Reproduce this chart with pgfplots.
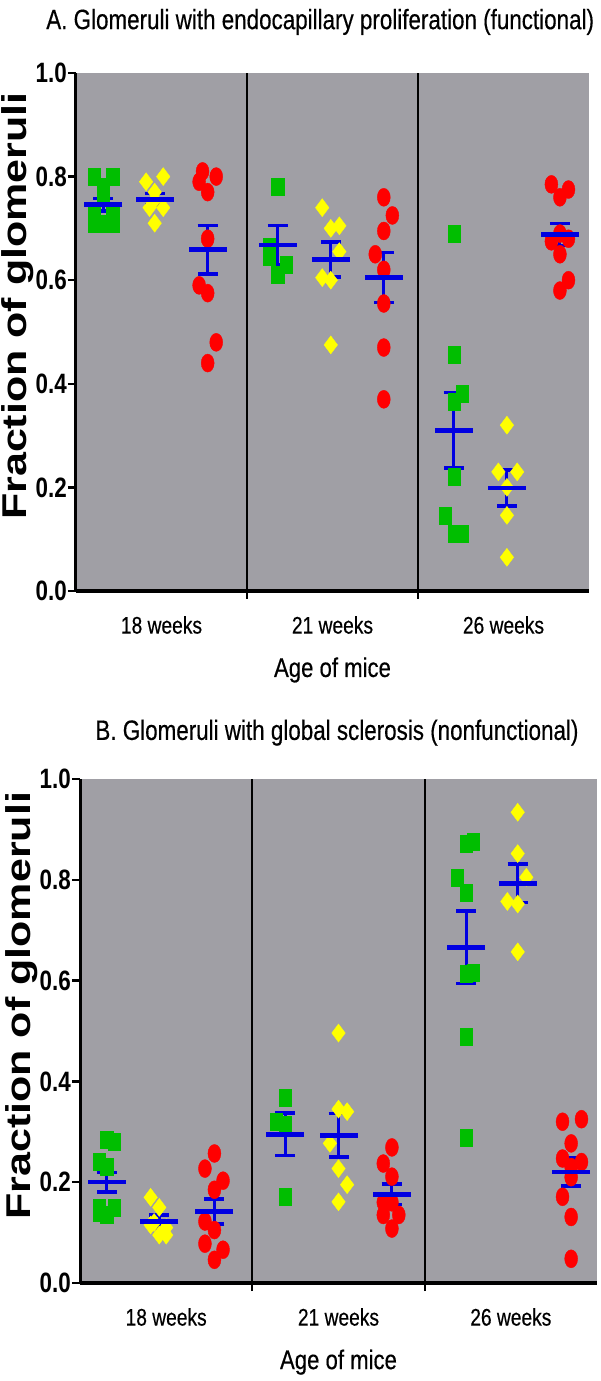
\documentclass[border=0pt]{standalone}
\usepackage{fontspec}
\setmainfont{Liberation Sans}
\newfontfamily\nar[FakeStretch=0.8,FakeBold=0.4]{Liberation Sans}
\newfontfamily\narx[FakeStretch=0.82,FakeBold=0.4]{Liberation Sans}
\newfontfamily\narb[FakeStretch=0.8]{Liberation Sans}
\usepackage{graphicx}
\usepackage{pgfplots}
\pgfplotsset{compat=1.18}
\definecolor{bggray}{RGB}{160,159,165}
\definecolor{mgreen}{RGB}{0,190,0}
\definecolor{myellow}{RGB}{255,255,0}
\definecolor{mred}{RGB}{255,0,0}
\definecolor{mblue}{RGB}{0,0,225}

\pgfplotsset{
  panel/.style={
    scale only axis,
    xmin=0,xmax=3,ymin=0,ymax=1,
    axis background/.style={fill=bggray},
    axis x line*=bottom, axis y line*=left,
    x axis line style={line width=4.5pt,-},
    y axis line style={line width=3pt,-},
    xtick={1,2}, xticklabels={},
    xmajorgrids=true,
    major grid style={black,line width=1.8pt},
    x tick style={black,line width=1.8pt},
    extra x ticks={0.5,1.5,2.5},
    extra x tick labels={18 weeks,21 weeks,26 weeks},
    extra x tick style={major tick length=0pt, xmajorgrids=false,
      xticklabel style={anchor=center,yshift=-34pt}},
    xticklabel style={font=\nar\fontsize{24}{28}\selectfont},
    ytick={0,0.2,0.4,0.6,0.8,1},
    yticklabel style={/pgf/number format/fixed,/pgf/number format/fixed zerofill,/pgf/number format/precision=1,/pgf/number format/assume math mode=true,
      font=\narb\bfseries\fontsize{28}{30}\selectfont, inner xsep=1pt},
    y tick style={black,line width=2.5pt},
    tick align=outside, major tick length=8pt,
    ylabel={\scalebox{1}[0.8]{\bfseries\fontsize{43}{47}\selectfont Fraction of glomeruli}},
    ylabel style={at={(axis description cs:-0.113,0.55)},anchor=center},
    xlabel={Age of mice},
    xlabel style={font=\narx\fontsize{27}{31}\selectfont,anchor=center},
    title style={font=\nar\fontsize{28}{32}\selectfont,anchor=center},
    clip=false,
  },
  gsq/.style={only marks, mark=square*, mark size=8.5pt, mark options={xscale=0.72, draw=mgreen, fill=mgreen}},
  ydi/.style={only marks, mark=diamond*, mark size=9pt, mark options={draw=myellow, fill=myellow}},
  rci/.style={only marks, mark=*, mark size=9pt, mark options={xscale=0.72, draw=mred, fill=mred}},
  msem/.style={only marks, mark=-, mark size=19pt, mark options={draw=mblue, line width=4.5pt},
    error bars/.cd, y dir=both, y explicit,
    error bar style={draw=mblue, line width=3pt},
    error mark options={rotate=90, draw=mblue, line width=3.5pt, mark size=10pt}},
}

\begin{document}
\begin{tikzpicture}
\useasboundingbox (0,0) rectangle (600pt,1381pt);

% ---------------- Panel A ----------------
\begin{axis}[panel, at={(76pt,790pt)}, anchor=south west, width=513pt, height=518pt,
  title={A. Glomeruli with endocapillary proliferation (functional)},
  title style={at={(axis description cs:0.476,1.087)}},
  xlabel style={at={(axis description cs:0.5,-0.1525)}}]
% 18 weeks
\addplot[gsq] coordinates {(0.105,0.80)(0.215,0.80)(0.16,0.78)(0.16,0.76)(0.105,0.73)(0.215,0.73)(0.105,0.71)(0.16,0.71)(0.215,0.71)};
\addplot[ydi] coordinates {(0.51,0.80)(0.41,0.79)(0.46,0.77)(0.43,0.74)(0.51,0.74)(0.46,0.71)(0.46,0.755)};
\addplot[rci] coordinates {(0.74,0.81)(0.82,0.80)(0.72,0.79)(0.77,0.77)(0.77,0.68)(0.72,0.59)(0.77,0.575)(0.82,0.48)(0.77,0.44)};
% 21 weeks
\addplot[gsq] coordinates {(1.18,0.78)(1.13,0.665)(1.13,0.645)(1.23,0.63)(1.18,0.61)};
\addplot[ydi] coordinates {(1.44,0.74)(1.49,0.70)(1.54,0.705)(1.54,0.655)(1.44,0.605)(1.49,0.60)(1.49,0.475)};
\addplot[rci] coordinates {(1.80,0.76)(1.85,0.725)(1.80,0.695)(1.75,0.65)(1.80,0.62)(1.80,0.555)(1.80,0.47)(1.80,0.37)};
% 26 weeks
\addplot[gsq] coordinates {(2.21,0.69)(2.21,0.457)(2.26,0.38)(2.21,0.365)(2.21,0.22)(2.16,0.145)(2.21,0.11)(2.26,0.11)};
\addplot[ydi] coordinates {(2.52,0.32)(2.47,0.23)(2.58,0.23)(2.52,0.20)(2.52,0.146)(2.52,0.065)};
\addplot[rci] coordinates {(2.78,0.785)(2.88,0.775)(2.83,0.76)(2.83,0.69)(2.78,0.675)(2.88,0.68)(2.83,0.65)(2.88,0.60)(2.83,0.58)};
% means +- SEM
\addplot[msem] coordinates {
 (0.16,0.746) +- (0,0.012)
 (0.46,0.756) +- (0,0.011)
 (0.77,0.659) +- (0,0.047)
 (1.18,0.668) +- (0,0.038)
 (1.49,0.640) +- (0,0.034)
 (1.80,0.605) +- (0,0.048)
 (2.21,0.310) +- (0,0.073)
 (2.52,0.199) +- (0,0.035)
 (2.83,0.688) +- (0,0.021)};
\end{axis}

% ---------------- Panel B ----------------
\begin{axis}[panel, at={(80pt,98pt)}, anchor=south west, width=517pt, height=504pt,
  title={B. Glomeruli with global sclerosis (nonfunctional)},
  title style={at={(axis description cs:0.497,1.08)}},
  xlabel style={at={(axis description cs:0.5,-0.157)}}]
% 18 weeks
\addplot[gsq] coordinates {(0.20,0.28)(0.155,0.285)(0.11,0.24)(0.155,0.23)(0.11,0.15)(0.20,0.15)(0.155,0.135)(0.11,0.14)};
\addplot[ydi] coordinates {(0.41,0.17)(0.46,0.15)(0.43,0.12)(0.50,0.11)(0.46,0.095)(0.41,0.115)(0.50,0.095)};
\addplot[rci] coordinates {(0.78,0.257)(0.725,0.227)(0.83,0.203)(0.78,0.185)(0.725,0.122)(0.78,0.105)(0.725,0.078)(0.83,0.066)(0.78,0.046)};
% 21 weeks
\addplot[gsq] coordinates {(1.19,0.367)(1.14,0.32)(1.19,0.315)(1.19,0.171)};
\addplot[ydi] coordinates {(1.50,0.496)(1.50,0.345)(1.55,0.34)(1.45,0.277)(1.50,0.227)(1.55,0.195)(1.50,0.161)};
\addplot[rci] coordinates {(1.81,0.269)(1.76,0.237)(1.81,0.211)(1.76,0.16)(1.81,0.16)(1.76,0.135)(1.85,0.135)(1.81,0.108)};
% 26 weeks
\addplot[gsq] coordinates {(2.24,0.872)(2.28,0.875)(2.19,0.805)(2.24,0.775)(2.24,0.613)(2.28,0.615)(2.24,0.488)(2.24,0.289)};
\addplot[ydi] coordinates {(2.54,0.934)(2.54,0.852)(2.59,0.805)(2.48,0.757)(2.54,0.752)(2.54,0.657)};
\addplot[rci] coordinates {(2.80,0.32)(2.91,0.325)(2.85,0.277)(2.80,0.247)(2.91,0.24)(2.85,0.23)(2.85,0.21)(2.80,0.171)(2.85,0.131)(2.85,0.048)};
% means +- SEM
\addplot[msem] coordinates {
 (0.155,0.200) +- (0,0.019)
 (0.46,0.122) +- (0,0.0125)
 (0.78,0.142) +- (0,0.025)
 (1.19,0.295) +- (0,0.042)
 (1.50,0.293) +- (0,0.043)
 (1.81,0.176) +- (0,0.020)
 (2.24,0.666) +- (0,0.072)
 (2.54,0.793) +- (0,0.038)
 (2.85,0.220) +- (0,0.028)};
\end{axis}
\end{tikzpicture}
\end{document}
